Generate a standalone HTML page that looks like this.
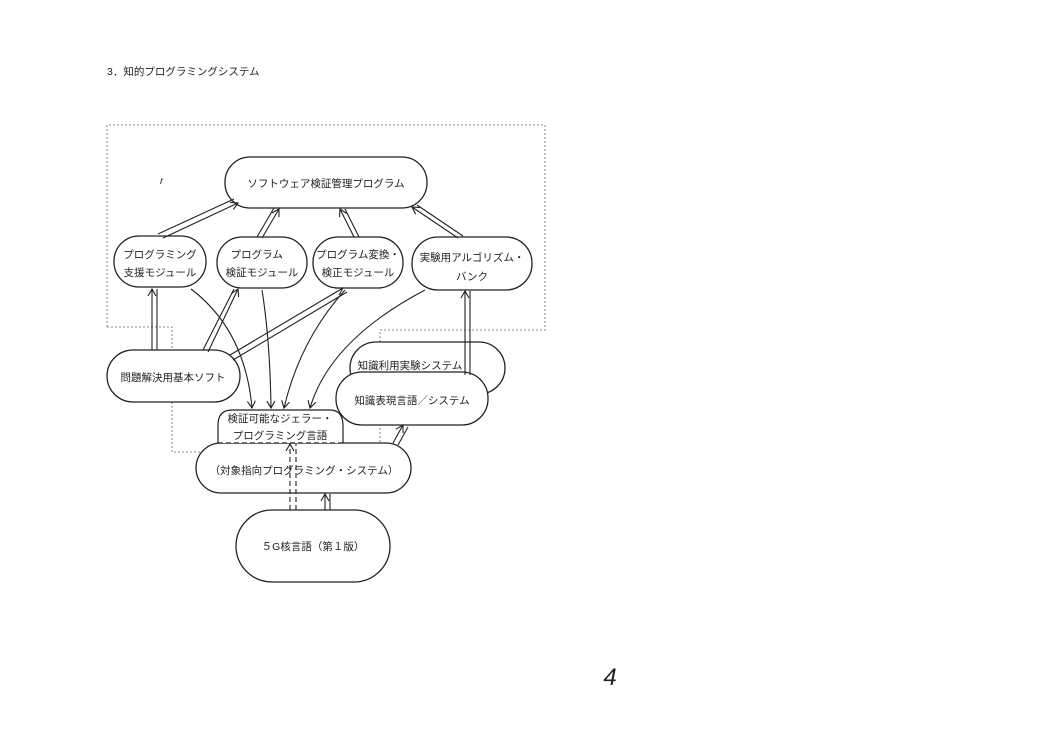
<!DOCTYPE html>
<html><head><meta charset="utf-8"><style>
html,body{margin:0;padding:0;background:#fff;}
svg{display:block;}
text{font-family:"Liberation Sans","Noto Sans CJK JP",sans-serif;fill:#222;}
</style></head><body>
<svg width="1054" height="750" viewBox="0 0 1054 750" xmlns="http://www.w3.org/2000/svg">
<defs>
<marker id="a" markerWidth="10" markerHeight="10" refX="8" refY="5" orient="auto" markerUnits="userSpaceOnUse">
<path d="M1,1 L8,5 L1,9" fill="none" stroke="#222" stroke-width="1.1"/></marker>
</defs>
<text x="107" y="75" font-size="10.5">3．知的プログラミングシステム</text>

<polyline points="107,327 107,125 545,125 545,330 380,330 380,452 172,452 172,327 107,327" fill="none" stroke="#666" stroke-width="0.8" stroke-dasharray="2,2"/>

<g fill="#fff" stroke="#222" stroke-width="1.3">
<rect x="225" y="157" width="202" height="51" rx="25"/>
<rect x="114" y="236" width="92" height="51" rx="25"/>
<rect x="217" y="237" width="90" height="51" rx="25"/>
<rect x="313" y="237" width="90" height="51" rx="25"/>
<rect x="412" y="237" width="120" height="53" rx="26"/>
<rect x="350" y="342" width="155" height="52" rx="26"/>
<rect x="107" y="350" width="133" height="52" rx="26"/>
<rect x="196" y="443" width="215" height="50" rx="25"/>
<rect x="336" y="372" width="152" height="53" rx="26"/>
<rect x="236" y="510" width="154" height="72" rx="36"/>
</g>
<path d="M218,443 L218,425 Q218,410 232,410 L330,410 Q343,410 343,426 L343,443" fill="#fff" stroke="#222" stroke-width="1.2"/>
<line x1="218" y1="443" x2="343" y2="443" stroke="#222" stroke-width="1.2" stroke-dasharray="5,3"/>

<g fill="none" stroke="#222" stroke-width="1.1">
<line x1="158" y1="234" x2="234" y2="199"/><line x1="163" y1="238" x2="238" y2="203" marker-end="url(#a)"/>
<line x1="257" y1="237" x2="274" y2="208"/><line x1="262" y1="238" x2="279" y2="209" marker-end="url(#a)"/>
<line x1="354" y1="237" x2="340" y2="209" marker-end="url(#a)"/><line x1="359" y1="237" x2="345" y2="209"/>
<line x1="458" y1="238" x2="412" y2="207" marker-end="url(#a)"/><line x1="463" y1="236" x2="417" y2="205"/>
<line x1="152" y1="350" x2="152" y2="289" marker-end="url(#a)"/><line x1="157" y1="350" x2="157" y2="289"/>
<line x1="203" y1="350" x2="234" y2="289"/><line x1="208" y1="352" x2="238" y2="289" marker-end="url(#a)"/>
<line x1="230" y1="355" x2="343" y2="288" marker-end="url(#a)"/><line x1="233" y1="360" x2="347" y2="292"/>
<line x1="465" y1="375" x2="465" y2="291" marker-end="url(#a)"/><line x1="470" y1="375" x2="470" y2="291"/>
<line x1="393" y1="443" x2="403" y2="425" marker-end="url(#a)"/><line x1="398" y1="445" x2="408" y2="427"/>
<line x1="325" y1="510" x2="325" y2="494" marker-end="url(#a)"/><line x1="330" y1="510" x2="330" y2="494"/>
<line x1="290" y1="510" x2="290" y2="444" stroke-dasharray="5,3" marker-end="url(#a)"/><line x1="296" y1="510" x2="296" y2="444" stroke-dasharray="5,3"/>
<path d="M191,289 Q245,330 252,408" marker-end="url(#a)"/>
<path d="M262,290 Q270,340 271,408" marker-end="url(#a)"/>
<path d="M345,290 Q300,340 284,408" marker-end="url(#a)"/>
<path d="M425,290 Q330,340 310,408" marker-end="url(#a)"/>
</g>

<text x="160" y="184" font-size="10" font-style="italic">r</text>
<g font-size="10.5" text-anchor="middle">
<text x="326" y="187">ソフトウェア検証管理プログラム</text>
<text x="160" y="258">プログラミング</text><text x="160" y="276">支援モジュール</text>
<text x="262" y="258">プログラム　</text><text x="262" y="276">検証モジュール</text>
<text x="358" y="258">プログラム変換・</text><text x="358" y="276">検正モジュール</text>
<text x="472" y="261">実験用アルゴリズム・</text><text x="472" y="280">バンク</text>
<text x="173" y="381">問題解決用基本ソフト</text>
<text x="410" y="369">知識利用実験システム</text>
<text x="412" y="404">知識表現言語／システム</text>
<text x="280" y="422">検証可能なジェラー・</text>
<text x="280" y="439">プログラミング言語</text>
<text x="304" y="474">（対象指向プログラミング・システム）</text>
<text x="313" y="550">５G核言語（第１版）</text>
</g>
<text x="610" y="685" font-size="24" font-style="italic" text-anchor="middle">4</text>
</svg>
</body></html>
